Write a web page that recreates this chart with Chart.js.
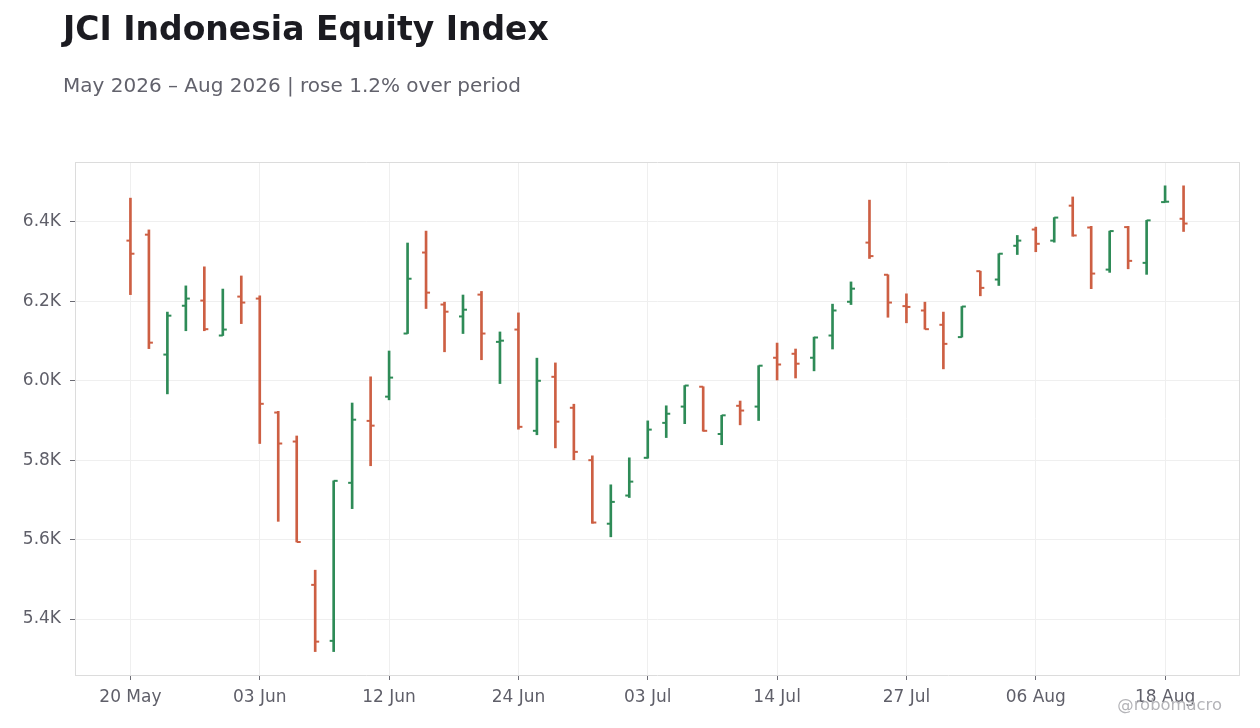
<!DOCTYPE html>
<html>
<head>
<meta charset="utf-8">
<script src="https://cdn.jsdelivr.net/npm/chart.js@4.4.1/dist/chart.umd.min.js"></script>
<style>
  html, body { margin: 0; padding: 0; background: #fff; }
  #wrap { position: relative; width: 1260px; height: 728px; font-family: "DejaVu Sans", sans-serif; }
  #title { position: absolute; left: 63px; top: 12px; font-size: 33px; font-weight: bold; color: #1b1b21; line-height: 1; white-space: nowrap; }
  #subtitle { position: absolute; left: 63px; top: 75px; font-size: 20px; color: #62626c; line-height: 1; white-space: nowrap; }
  #credit { position: absolute; right: 38px; top: 697px; font-size: 16.4px; color: #b4b4b8; line-height: 1; }
  canvas { position: absolute; left: 0; top: 0; }
</style>
</head>
<body>
<div id="wrap">
  <canvas id="chart" width="1260" height="728"></canvas>
  <div id="title">JCI Indonesia Equity Index</div>
  <div id="subtitle">May 2026 – Aug 2026 | rose 1.2% over period</div>
  <div id="credit">@robomacro</div>
</div>
<script>
const $ = (id) => document.getElementById(id);

// trading days (one bar each)
const dates = [
  "20 May", "21 May", "22 May", "25 May", "27 May", "28 May", "01 Jun",
  "03 Jun", "04 Jun", "05 Jun", "08 Jun", "09 Jun", "10 Jun", "11 Jun",
  "12 Jun", "15 Jun", "16 Jun", "18 Jun", "19 Jun", "22 Jun", "23 Jun",
  "24 Jun", "25 Jun", "26 Jun", "29 Jun", "30 Jun", "01 Jul", "02 Jul",
  "03 Jul", "06 Jul", "07 Jul", "08 Jul", "09 Jul", "10 Jul", "13 Jul",
  "14 Jul", "16 Jul", "17 Jul", "20 Jul", "21 Jul", "22 Jul", "24 Jul",
  "27 Jul", "28 Jul", "29 Jul", "30 Jul", "31 Jul", "03 Aug", "05 Aug",
  "06 Aug", "07 Aug", "10 Aug", "11 Aug", "12 Aug", "13 Aug", "14 Aug",
  "18 Aug", "19 Aug"
];

const opens = [
  6353, 6368, 6066, 6189, 6202, 6114, 6212, 6207, 5920, 5847, 5486, 5345, 5743, 5899,
  5960, 6119, 6323, 6192, 6162, 6217, 6098, 6129, 5874, 6010, 5932, 5800, 5640, 5711,
  5806, 5894, 5935, 5985, 5866, 5937, 5935, 6058, 6068, 6058, 6114, 6199, 6348, 6267,
  6188, 6177, 6141, 6110, 6276, 6255, 6340, 6381, 6353, 6441, 6386, 6280, 6387, 6297,
  6450, 6408
];
const highs = [
  6460, 6380, 6173, 6239, 6287, 6231, 6264, 6214, 5923, 5861, 5523, 5748, 5944, 6010,
  6075, 6347, 6377, 6198, 6216, 6225, 6123, 6171, 6057, 6045, 5941, 5811, 5738, 5806,
  5899, 5937, 5988, 5985, 5913, 5949, 6038, 6095, 6080, 6110, 6193, 6249, 6455, 6267,
  6219, 6198, 6173, 6187, 6276, 6320, 6366, 6387, 6411, 6463, 6389, 6377, 6389, 6404,
  6491, 6491
];
const lows = [
  6217, 6081, 5967, 6126, 6126, 6114, 6144, 5842, 5646, 5594, 5318, 5318, 5678, 5786,
  5952, 6119, 6182, 6073, 6119, 6053, 5993, 5878, 5864, 5831, 5801, 5641, 5607, 5706,
  5805, 5857, 5892, 5873, 5839, 5889, 5900, 6002, 6007, 6025, 6080, 6192, 6308, 6160,
  6146, 6130, 6030, 6110, 6214, 6240, 6318, 6325, 6349, 6364, 6232, 6273, 6282, 6268,
  6450, 6376
];
const closes = [
  6320, 6096, 6164, 6207, 6130, 6129, 6197, 5942, 5842, 5594, 5343, 5748, 5902, 5887,
  6008, 6257, 6222, 6174, 6179, 6119, 6101, 5884, 6000, 5897, 5821, 5643, 5695, 5746,
  5877, 5917, 5988, 5874, 5913, 5925, 6038, 6041, 6043, 6109, 6177, 6232, 6314, 6197,
  6186, 6130, 6093, 6187, 6234, 6320, 6353, 6345, 6411, 6366, 6270, 6377, 6302, 6404,
  6451, 6396
];

const xTickIdx = [0, 7, 14, 21, 28, 35, 42, 49, 56];
const yTickVals = [5400, 5600, 5800, 6000, 6200, 6400];

const UP = "#2e8b57";
const DOWN = "#cd5f43";
const GRID = "#efefef";
const FRAME = "#dcdcdc";
const TICK_MARK = "#6b6b73";
const LABEL = "#5f5f69";

Chart.defaults.font.family = "'DejaVu Sans', sans-serif";

const isUp = (i) => closes[i] >= opens[i];
const barColors = dates.map((d, i) => (isUp(i) ? UP : DOWN));

const frameAxis = (pos) => ({
  type: "linear",
  position: pos,
  min: pos === "top" ? -3 : 5259,
  max: pos === "top" ? 60 : 6551,
  grid: { drawOnChartArea: false, drawTicks: false },
  ticks: { display: false },
  border: { color: FRAME }
});

// "dash" point style draws from the point outwards; rotate 180 for the open tick
const tickSet = (label, values, rotation) => ({
  type: "scatter",
  label,
  data: values.map((v, i) => ({ x: i, y: v })),
  pointStyle: "dash",
  rotation,
  pointRadius: 4,
  borderWidth: 2,
  borderColor: barColors,
  backgroundColor: barColors,
  order: 1
});

new Chart($("chart").getContext("2d"), {
  type: "bar",
  data: {
    datasets: [
      {
        type: "bar",
        label: "High-Low",
        data: highs.map((h, i) => ({ x: i, y: [lows[i], h] })),
        backgroundColor: barColors,
        barThickness: 2,
        order: 2
      },
      tickSet("Open", opens, 180),
      tickSet("Close", closes, 0)
    ]
  },
  options: {
    responsive: false,
    animation: false,
    events: [],
    layout: { padding: { top: 162, right: 21, left: 0, bottom: 0 } },
    plugins: { legend: { display: false }, tooltip: { enabled: false } },
    scales: {
      x: {
        type: "linear",
        min: -3,
        max: 60,
        offset: false,
        afterBuildTicks: (s) => { s.ticks = xTickIdx.map((v) => ({ value: v })); },
        afterFit: (s) => { s.height = 53; },
        grid: { color: GRID, tickColor: TICK_MARK, tickLength: 5, offset: false },
        border: { color: FRAME },
        ticks: {
          callback: (v) => dates[v],
          autoSkip: false,
          maxRotation: 0,
          padding: 7,
          color: LABEL,
          font: { size: 17 }
        }
      },
      y: {
        type: "linear",
        min: 5259,
        max: 6551,
        afterBuildTicks: (s) => { s.ticks = yTickVals.map((v) => ({ value: v })); },
        afterFit: (s) => { s.width = 75; },
        grid: { color: GRID, tickColor: TICK_MARK, tickLength: 5 },
        border: { color: FRAME },
        ticks: {
          callback: (v) => (v / 1000).toFixed(1) + "K",
          padding: 9,
          color: LABEL,
          font: { size: 17 }
        }
      },
      x2: frameAxis("top"),
      y2: frameAxis("right")
    }
  }
});
</script>
</body>
</html>
